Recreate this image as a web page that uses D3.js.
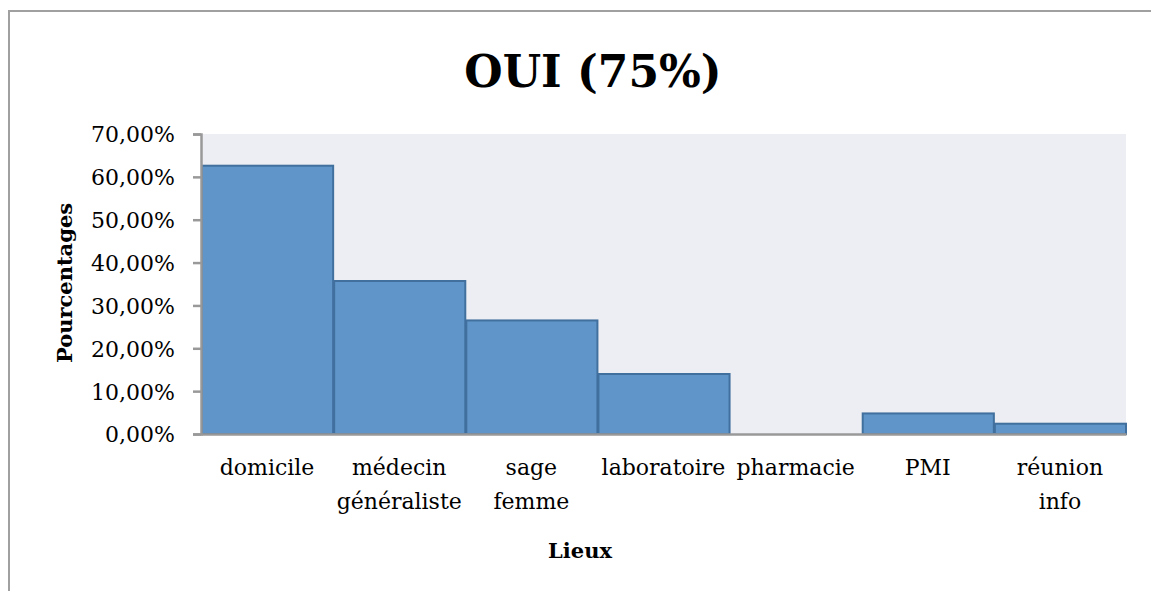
<!DOCTYPE html>
<html><head><meta charset="utf-8">
<script src="https://cdn.jsdelivr.net/npm/d3@7"></script>
<style>body{margin:0;background:#fff;}svg{display:block;}</style>
</head><body>
<svg id="chart" width="1151" height="591"></svg>
<script>
const categories = ["domicile","médecin généraliste","sage femme","laboratoire","pharmacie","PMI","réunion info"];
const values = [0.626, 0.357, 0.265, 0.140, 0.0, 0.048, 0.024];
const yTicks = [0,0.1,0.2,0.3,0.4,0.5,0.6,0.7];
const title = "OUI (75%)";
const yTitle = "Pourcentages";
const xTitle = "Lieux";

const svg = d3.select("#chart");
const font = "'DejaVu Serif', serif";
const plot = {left:201, right:1126, top:134, bottom:434};

// outer border
svg.append("path").attr("d","M9,591 V11 H1151").attr("fill","none").attr("stroke","#a0a0a0").attr("stroke-width",2);

const x = d3.scaleBand().domain(categories).range([plot.left, plot.right]).padding(0);
const y = d3.scaleLinear().domain([0,0.7]).range([plot.bottom, plot.top]);

svg.append("rect").attr("x",plot.left).attr("y",plot.top).attr("width",plot.right-plot.left).attr("height",plot.bottom-plot.top).attr("fill","#eceef3");

svg.selectAll("rect.bar").data(values).enter().append("rect").attr("class","bar")
  .attr("x",(d,i)=>x(categories[i])+1)
  .attr("y",d=>y(d))
  .attr("width",x.bandwidth()-1)
  .attr("height",d=>plot.bottom-y(d))
  .attr("fill","#5f95c8")
  .attr("stroke",d=>d>0?"#41709f":"none")
  .attr("stroke-width",2);

const fmt = d=>d3.format(".2f")(d*100).replace(".",",")+"%";
const yAxis = d3.axisLeft(y).tickValues(yTicks).tickFormat(fmt).tickSize(8).tickPadding(18);
const gy = svg.append("g").attr("transform",`translate(${plot.left},0)`).call(yAxis);
gy.select(".domain").attr("stroke","#999").attr("stroke-width",2.5);
gy.selectAll(".tick line").attr("stroke","#999").attr("stroke-width",2.5);
gy.selectAll(".tick text").attr("font-family",font).attr("font-size",22).attr("fill","#000").attr("dy","0.36em");

const xAxis = d3.axisBottom(x).tickSize(0).tickFormat("");
const gx = svg.append("g").attr("transform",`translate(0,${plot.bottom})`).call(xAxis);
gx.select(".domain").attr("stroke","#999").attr("stroke-width",2.5);

categories.forEach(c=>{
  const lines = c.split(" ");
  const t = svg.append("text").attr("x",x(c)+x.bandwidth()/2).attr("y",475)
    .attr("text-anchor","middle").attr("font-family",font).attr("font-size",22).attr("fill","#000");
  lines.forEach((l,i)=>t.append("tspan").attr("x",x(c)+x.bandwidth()/2).attr("dy",i===0?0:34).text(l));
});

svg.append("text").attr("x",593).attr("y",87).attr("text-anchor","middle")
  .attr("font-family",font).attr("font-weight","bold").attr("font-size",44).text(title);

svg.append("text").attr("transform","translate(72,283) rotate(-90)").attr("text-anchor","middle")
  .attr("font-family",font).attr("font-weight","bold").attr("font-size",21).text(yTitle);

svg.append("text").attr("x",580).attr("y",558).attr("text-anchor","middle")
  .attr("font-family",font).attr("font-weight","bold").attr("font-size",21).text(xTitle);
</script>
</body></html>
